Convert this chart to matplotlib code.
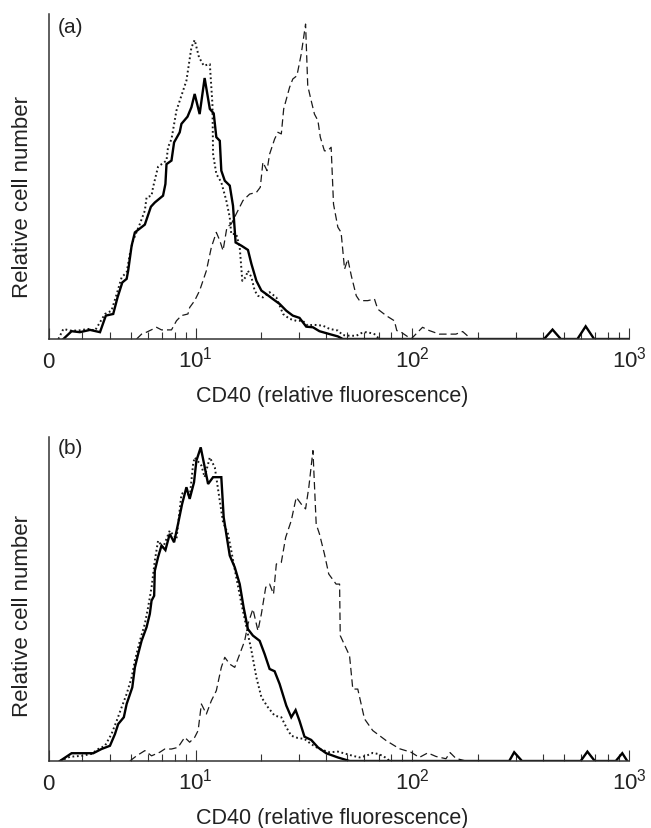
import numpy as np
import matplotlib
matplotlib.use("Agg")
import matplotlib.pyplot as plt

plt.rcParams['font.family'] = ['Liberation Sans', 'DejaVu Sans']
plt.rcParams['mathtext.fontset'] = 'custom'
plt.rcParams['mathtext.rm'] = 'Liberation Sans'

# ---- data: x = log10(relative fluorescence), y = relative cell number (% of axis) ----
a_solid_x = [0.389, 0.427, 0.465, 0.512, 0.558, 0.585, 0.619, 0.639, 0.661, 0.681, 0.688, 0.704, 0.719,
             0.765, 0.793, 0.811, 0.849, 0.860, 0.865, 0.888, 0.900, 0.926, 0.934, 0.962, 0.980, 0.995,
             1.018, 1.041, 1.065, 1.083, 1.095, 1.111, 1.118, 1.134, 1.157, 1.172, 1.184, 1.211, 1.241,
             1.257, 1.280, 1.303, 1.326, 1.356, 1.387, 1.418, 1.448, 1.479, 1.510, 1.541, 1.571, 1.618,
             1.656, 1.679, 2.608, 2.647, 2.685, 2.762, 2.800, 2.839, 2.997]
a_solid_y = [0, 2.4, 2.1, 2.8, 2.1, 7.2, 7.7, 12.8, 17.4, 18.5, 21.0, 28.7, 32.8,
             35.2, 40.7, 42.0, 44.1, 47.7, 53.8, 54.9, 60.5, 63.6, 66.2, 68.4, 71.3, 75.4,
             69.2, 80.3, 70.8, 69.4, 62.1, 61.0, 51.8, 48.7, 47.2, 41.0, 29.7, 28.7, 27.4,
             23.1, 17.9, 14.9, 13.8, 12.3, 10.8, 8.7, 7.2, 6.5, 3.8, 3.6, 2.4, 1.5,
             0.8, 0, 0, 2.9, 0, 0, 3.9, 0, 0]

a_dot_x = [0.366, 0.389, 0.419, 0.458, 0.504, 0.535, 0.581, 0.611, 0.635, 0.658, 0.681, 0.696, 0.711,
           0.742, 0.765, 0.773, 0.796, 0.803, 0.826, 0.865, 0.872, 0.888, 0.911, 0.934, 0.957, 0.980,
           0.995, 1.015, 1.037, 1.065, 1.077, 1.080, 1.095, 1.118, 1.141, 1.157, 1.164, 1.187, 1.203,
           1.215, 1.230, 1.241, 1.257, 1.272, 1.287, 1.310, 1.341, 1.372, 1.403, 1.433, 1.464, 1.494,
           1.517, 1.541, 1.587, 1.618, 1.656, 1.679, 1.710, 1.741, 1.764, 1.787, 1.810, 1.825, 1.840, 1.848]
a_dot_y = [0, 3.1, 2.6, 2.6, 3.1, 2.6, 7.7, 8.7, 13.8, 19.0, 20.5, 26.2, 30.3,
           35.4, 39.5, 43.6, 44.1, 46.7, 53.0, 54.9, 59.0, 61.5, 70.3, 74.9, 79.5, 89.7,
           92.0, 86.7, 84.1, 84.6, 72.3, 56.9, 50.8, 48.2, 42.6, 37.4, 32.3, 32.3, 28.2,
           17.9, 19.0, 21.0, 19.0, 14.9, 13.3, 12.8, 14.4, 12.8, 7.7, 6.2, 5.6, 5.6,
           4.1, 4.4, 4.1, 3.1, 2.6, 1.2, 1.0, 1.0, 1.8, 2.1, 1.8, 1.5, 0.5, 0]

a_dash_x = [0.727, 0.750, 0.773, 0.819, 0.842, 0.888, 0.911, 0.934, 0.964, 0.972, 0.995, 1.018, 1.049,
            1.072, 1.095, 1.111, 1.126, 1.144, 1.164, 1.187, 1.218, 1.249, 1.280, 1.298, 1.310, 1.329,
            1.341, 1.364, 1.379, 1.395, 1.406, 1.433, 1.448, 1.467, 1.487, 1.507, 1.517, 1.533, 1.548,
            1.564, 1.575, 1.594, 1.609, 1.625, 1.636, 1.656, 1.671, 1.687, 1.702, 1.718, 1.741, 1.756,
            1.794, 1.825, 1.840, 1.879, 1.917, 1.928, 1.948, 1.994, 2.047, 2.078, 2.124, 2.201, 2.232, 2.271]
a_dash_y = [0, 1.5, 2.1, 3.6, 2.8, 2.8, 5.6, 7.2, 7.7, 9.7, 11.8, 14.9, 21.0,
            28.2, 32.8, 30.3, 27.2, 34.4, 35.4, 38.5, 42.6, 44.6, 45.1, 46.7, 54.4, 51.8,
            56.9, 61.5, 63.6, 63.1, 70.8, 77.4, 80.0, 81.0, 87.7, 96.9, 77.9, 73.3, 69.2,
            67.2, 62.1, 57.9, 57.9, 59.0, 41.5, 34.4, 32.8, 21.5, 24.6, 19.5, 13.3, 11.8,
            11.8, 12.3, 9.2, 7.2, 5.6, 2.6, 2.1, 0, 3.6, 2.6, 1.5, 1.5, 2.3, 0]

b_solid_x = [0.373, 0.427, 0.527, 0.565, 0.604, 0.627, 0.642, 0.668, 0.681, 0.707, 0.719, 0.734, 0.750,
             0.773, 0.788, 0.796, 0.808, 0.811, 0.826, 0.842, 0.860, 0.880, 0.900, 0.918, 0.937, 0.957,
             0.972, 0.992, 1.003, 1.023, 1.057, 1.080, 1.118, 1.129, 1.141, 1.157, 1.180, 1.203, 1.221,
             1.241, 1.264, 1.295, 1.318, 1.341, 1.364, 1.387, 1.418, 1.441, 1.461, 1.479, 1.502, 1.533,
             1.564, 1.602, 1.656, 1.710, 2.447, 2.470, 2.506, 2.777, 2.808, 2.842, 2.939, 2.969, 2.992]
b_solid_y = [0, 2.4, 2.4, 3.7, 4.7, 8.3, 11.4, 13.5, 17.6, 22.7, 28.9, 33.0, 37.1,
             41.3, 45.4, 49.5, 51.0, 58.7, 62.9, 66.5, 65.1, 70.1, 67.5, 73.1, 79.3, 84.5,
             80.9, 86.0, 92.7, 96.8, 85.5, 87.6, 87.6, 75.2, 70.1, 63.4, 59.8, 54.6, 47.4,
             40.7, 38.7, 37.1, 33.0, 28.4, 27.7, 23.8, 17.1, 13.5, 15.7, 12.4, 7.5, 6.5,
             4.2, 2.4, 1.1, 0, 0, 2.7, 0, 0, 2.9, 0, 0, 2.4, 0]

b_dot_x = [0.373, 0.419, 0.473, 0.519, 0.550, 0.581, 0.611, 0.635, 0.658, 0.681, 0.704, 0.719, 0.742,
           0.765, 0.780, 0.796, 0.811, 0.826, 0.849, 0.880, 0.911, 0.934, 0.957, 0.972, 0.988, 0.995,
           1.026, 1.041, 1.065, 1.088, 1.111, 1.126, 1.149, 1.164, 1.187, 1.211, 1.234, 1.257, 1.280,
           1.303, 1.333, 1.364, 1.395, 1.418, 1.441, 1.471, 1.502, 1.533, 1.571, 1.618, 1.656, 1.694,
           1.725, 1.756, 1.787, 1.817, 1.840, 1.863, 1.886, 1.894]
b_dot_y = [0, 1.3, 1.6, 2.2, 3.7, 4.7, 8.3, 12.4, 16.6, 20.7, 25.8, 31.0, 37.1,
           42.3, 47.4, 53.6, 61.8, 68.0, 65.9, 71.1, 68.5, 82.4, 83.4, 81.4, 91.7, 93.7,
           91.2, 87.6, 93.7, 90.6, 80.3, 73.7, 70.1, 64.9, 56.7, 48.5, 41.3, 34.1, 25.8,
           19.7, 16.6, 14.0, 13.5, 10.4, 7.8, 7.1, 6.8, 5.2, 3.7, 2.7, 2.9, 2.2,
           1.6, 1.1, 1.6, 2.5, 2.2, 1.6, 0.6, 0]

b_dash_x = [0.696, 0.727, 0.765, 0.796, 0.834, 0.857, 0.888, 0.918, 0.949, 0.972, 0.995, 1.011, 1.026,
            1.049, 1.072, 1.095, 1.118, 1.134, 1.157, 1.180, 1.203, 1.226, 1.241, 1.264, 1.287, 1.303,
            1.323, 1.341, 1.359, 1.372, 1.395, 1.415, 1.441, 1.464, 1.487, 1.507, 1.522, 1.541, 1.556,
            1.571, 1.594, 1.614, 1.648, 1.664, 1.667, 1.710, 1.725, 1.748, 1.779, 1.817, 1.879, 1.940,
            1.994, 2.032, 2.071, 2.109, 2.155, 2.174, 2.201, 2.247]
b_dash_y = [0, 1.6, 3.2, 1.6, 2.7, 3.7, 3.7, 4.2, 7.3, 5.8, 7.3, 9.4, 17.6,
            14.5, 18.6, 21.7, 28.9, 32.0, 29.9, 28.9, 33.0, 37.1, 42.3, 46.9, 40.2, 45.4,
            53.6, 54.6, 51.5, 60.8, 61.3, 69.0, 74.2, 81.4, 79.3, 77.8, 84.5, 95.8, 73.1,
            70.1, 63.9, 57.7, 54.6, 54.6, 38.7, 32.5, 22.2, 22.2, 13.0, 9.4, 6.3, 3.8,
            2.7, 1.1, 2.5, 1.4, 0.7, 2.6, 0.8, 0]

panel_labels = ['(a)', '(b)']
tick_labels = [r'$\mathregular{0}$', r'$\mathregular{10^1}$', r'$\mathregular{10^2}$', r'$\mathregular{10^3}$']
x_label = 'CD40 (relative fluorescence)'
y_label = 'Relative cell number'

X_MIN = 10 ** 0.3226
X_MAX = 1000.0

W, H = 651, 829
fig = plt.figure(figsize=(W / 100, H / 100), dpi=100)

def px_axes(left, right, top, bottom):
    return fig.add_axes([left / W, 1 - bottom / H, (right - left) / W, (bottom - top) / H])

axes_px = [(49, 629, 15, 340), (49, 629, 438, 762)]
ylabel_y = [0.441, 0.452]
plabel_y = [0.963, 0.9676]
data = [
    (a_solid_x, a_solid_y, a_dot_x, a_dot_y, a_dash_x, a_dash_y),
    (b_solid_x, b_solid_y, b_dot_x, b_dot_y, b_dash_x, b_dash_y),
]

ink = '#1a1a1a'
axc = '#333333'
txt = '#222222'

for i, (l, r, t, b) in enumerate(axes_px):
    ax = px_axes(l, r, t, b)
    sx, sy, dx, dy, hx, hy = data[i]
    ax.plot(10 ** np.array(hx), hy, color=ink, lw=0.9, linestyle=(0, (6.0, 3.2)))
    ax.plot(10 ** np.array(dx), dy, color=ink, lw=1.4, linestyle=(0, (0.9, 1.4)))
    ax.plot(10 ** np.array(sx), sy, color='#000000', lw=1.7, solid_joinstyle='miter')

    ax.set_xscale('log')
    ax.set_xlim(X_MIN, X_MAX)
    ax.set_ylim(0, 100)
    for s in ('top', 'right'):
        ax.spines[s].set_visible(False)
    for s in ('left', 'bottom'):
        ax.spines[s].set_color(axc)
        ax.spines[s].set_linewidth(1.1)
    ax.set_yticks([])
    ax.set_xticks([X_MIN, 10, 100, 1000])
    ax.set_xticklabels(tick_labels)
    minors = [v * m for m in (1, 10, 100) for v in range(2, 10) if X_MIN < v * m < 1000]
    ax.set_xticks(minors, minor=True)
    ax.xaxis.set_minor_formatter(matplotlib.ticker.NullFormatter())
    ax.tick_params(axis='x', which='major', direction='in', length=8, width=0.8,
                   color=axc, labelsize=16, pad=20, labelcolor=txt)
    ax.tick_params(axis='x', which='minor', direction='in', length=5, width=0.8, color=axc)
    for lab in ax.get_xticklabels():
        lab.set_verticalalignment('baseline')

    ax.set_xlabel(x_label, fontsize=15.5, color=txt)
    ax.xaxis.set_label_coords(0.488, -0.142)
    ax.set_ylabel(y_label, fontsize=16, color=txt)
    ax.yaxis.set_label_coords(-0.028, ylabel_y[i])
    ax.text(0.0155, plabel_y[i], panel_labels[i], transform=ax.transAxes,
            ha='left', va='center', fontsize=15, color=txt)

fig.savefig('out.png', dpi=100)
